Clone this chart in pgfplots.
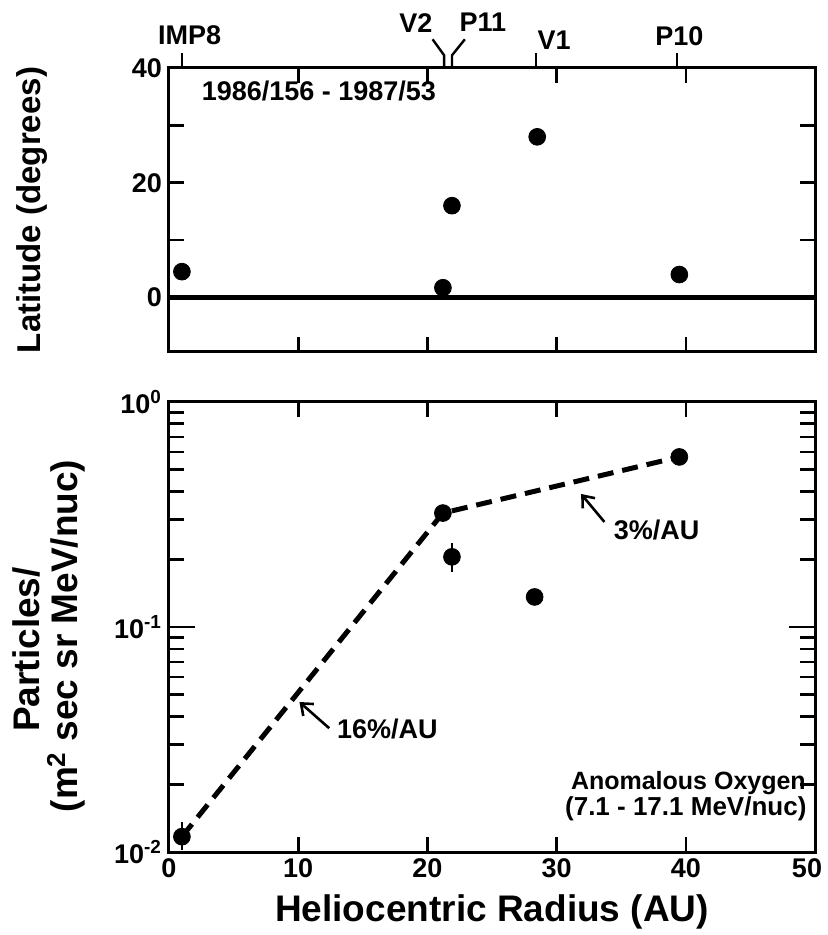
\documentclass[border=0pt]{standalone}
\usepackage{pgfplots}
\pgfplotsset{compat=1.18}
\usepackage{fontspec}
\setmainfont{Liberation Sans}
\usetikzlibrary{arrows.meta}
\newcommand{\tfont}{\bfseries\fontsize{13.5}{15}\selectfont}
\newcommand{\lfont}{\bfseries\fontsize{18.5}{21}\selectfont}
\begin{document}
\begin{tikzpicture}
\path[use as bounding box] (-84.5pt,-41.5pt) rectangle (329pt,426pt);
\pgfplotsset{
  every axis/.append style={
    scale only axis, width=323pt, xmin=0, xmax=50,
    axis line style={line width=1.5pt},
    tick style={line width=1.3pt, black},
    major tick length=7.5pt, minor tick length=7.5pt,
    tick label style={font=\tfont},
    /pgf/number format/assume math mode=true,
    clip=false,
  },
}
% ---------------- top panel ----------------
\begin{axis}[at={(0pt,250pt)}, anchor=south west, height=142pt,
  ymin=-9.5, ymax=40,
  xtick={10,20,30,40}, xticklabels={},
  ytick={0,20,40}, minor ytick={10,30},
]
\addplot[black, line width=2.5pt] coordinates {(0,0) (50,0)};
\addplot[only marks, mark=*, mark size=4.2pt, black, mark options={fill=black}]
  coordinates {(1,4.5) (21.2,1.7) (21.9,16) (28.5,28) (39.5,4)};
\node[font=\tfont] at (axis cs:11.6,36.0) {1986/156 - 1987/53};
% spacecraft markers on top
\draw[line width=1.2pt] (axis cs:1,40) -- (axis cs:1,42.6);
\draw[line width=1.2pt] (axis cs:21.3,40) -- (axis cs:21.3,42.2) -- (axis cs:20.4,45.0);
\draw[line width=1.2pt] (axis cs:21.9,40) -- (axis cs:21.9,42.2) -- (axis cs:22.9,45.0);
\draw[line width=1.2pt] (axis cs:28.4,40) -- (axis cs:28.4,42.6);
\draw[line width=1.2pt] (axis cs:39.3,40) -- (axis cs:39.3,42.6);
\node[font=\tfont] at (axis cs:1.6,45.8) {IMP8};
\node[font=\tfont] at (axis cs:19.1,47.9) {V2};
\node[font=\tfont] at (axis cs:24.3,48.0) {P11};
\node[font=\tfont] at (axis cs:29.8,44.9) {V1};
\node[font=\tfont] at (axis cs:39.5,45.6) {P10};
\node[font=\bfseries\fontsize{16.5}{19}\selectfont, rotate=90] at (axis description cs:-0.212,0.5) {Latitude (degrees)};
\end{axis}
% ---------------- bottom panel ----------------
\begin{axis}[at={(0pt,0pt)}, anchor=south west, height=225pt,
  ymode=log, ymin=0.01, ymax=1,
  ytick={0.01,0.1,1},
  yticklabels={10\textsuperscript{-2},10\textsuperscript{-1},10\textsuperscript{0}},
  xtick={0,10,20,30,40},
  extra x ticks={50}, extra x tick labels={50},
  extra x tick style={tick label style={xshift=-4pt}},
  ytick style={/pgfplots/major tick length=13pt},
]
\addplot[black, line width=2.5pt, dash pattern=on 8pt off 4.5pt]
  coordinates {(1,0.0117) (21.2,0.321) (39.5,0.57)};
\addplot[only marks, mark=*, mark size=4.2pt, black, mark options={fill=black},
  error bars/.cd, y dir=both, y explicit, error mark=none,
  error bar style={line width=1.3pt}]
  coordinates {
    (1,0.0117) += (0,0.0019) -= (0,0.0015)
    (21.2,0.321) += (0,0) -= (0,0)
    (21.9,0.205) += (0,0.032) -= (0,0.030)
    (28.3,0.136) += (0,0) -= (0,0)
    (39.5,0.57) += (0,0) -= (0,0)
  };
\draw[-{Straight Barb[length=5pt,width=8pt]}, line width=1.3pt]
  (axis cs:12.4,0.0355) -- (axis cs:10.1,0.0464);
\node[font=\tfont] at (axis cs:16.9,0.0352) {16\%/AU};
\draw[-{Straight Barb[length=5pt,width=8pt]}, line width=1.3pt]
  (axis cs:33.7,0.293) -- (axis cs:31.9,0.39);
\node[font=\tfont] at (axis cs:37.75,0.27) {3\%/AU};
\node[font=\bfseries\fontsize{12.5}{14}\selectfont] at (axis cs:40.2,0.0203) {Anomalous Oxygen};
\node[font=\bfseries\fontsize{13}{14}\selectfont] at (axis cs:40.0,0.0156) {(7.1 - 17.1 MeV/nuc)};
\node[font=\lfont, rotate=90] at (axis description cs:-0.22,0.45) {Particles/};
\node[font=\lfont, rotate=90] at (axis description cs:-0.159,0.48) {(m\textsuperscript{2} sec sr MeV/nuc)};
\node[font=\lfont] at ([yshift=-30pt]axis description cs:0.5,0) {Heliocentric Radius (AU)};
\end{axis}
\end{tikzpicture}
\end{document}
